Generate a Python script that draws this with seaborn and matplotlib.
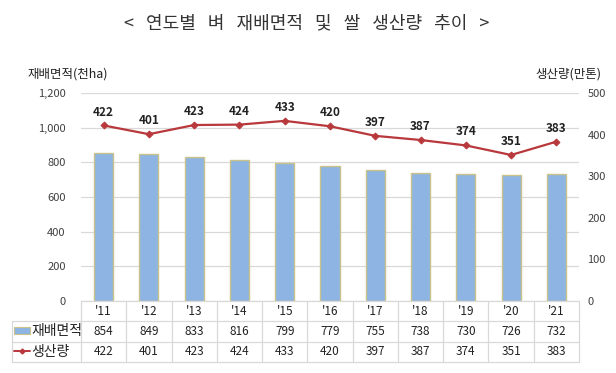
import numpy as np
import pandas as pd
import matplotlib
matplotlib.use('Agg')
import matplotlib.pyplot as plt
from matplotlib.lines import Line2D
from matplotlib.patches import Rectangle
import seaborn as sns

# data
years = ["'11", "'12", "'13", "'14", "'15", "'16", "'17", "'18", "'19", "'20", "'21"]
area = [854, 849, 833, 816, 799, 779, 755, 738, 730, 726, 732]          # 재배면적(천ha)
production = [422, 401, 423, 424, 433, 420, 397, 387, 374, 351, 383]    # 생산량(만톤)
area_label = '재배면적'
prod_label = '생산량'
title_words = ['<', '연도별', '벼', '재배면적', '및', '쌀', '생산량', '추이', '>']

sns.set_theme(style='white')
plt.rcParams['font.family'] = ['Noto Sans CJK KR', 'DejaVu Sans']

bar_color = '#8DB4E2'
bar_edge = '#C9C28A'
line_color = '#B8383C'
grid_color = '#D9D9D9'
text_color = '#404040'

df = pd.DataFrame({'year': years, 'area': area, 'production': production})

fig = plt.figure(figsize=(6.16, 3.73), dpi=100)
W, H = 616, 373
left, right, top, bottom = 81, 579, 93, 301
ax = fig.add_axes([left / W, 1 - bottom / H, (right - left) / W, (bottom - top) / H])

sns.barplot(data=df, x='year', y='area', ax=ax, color=bar_color, width=0.42,
            edgecolor=bar_edge, linewidth=1.0, saturation=1)
ax.set_xlim(-0.5, len(years) - 0.5)
ax.set_ylim(0, 1200)
ax.set_yticks(range(0, 1201, 200))
ax.set_yticklabels([f'{v:,}' for v in range(0, 1201, 200)], fontsize=8, color=text_color)
ax.yaxis.grid(True, color=grid_color, linewidth=0.9)
ax.set_axisbelow(True)
ax.set_xticks([])
ax.set_xlabel('')
ax.set_ylabel('')
ax.tick_params(axis='y', length=0, pad=11)
for s in ax.spines.values():
    s.set_visible(False)

ax2 = ax.twinx()
xpos = np.arange(len(years))
sns.lineplot(x=xpos, y=production, ax=ax2, color=line_color, linewidth=1.6,
             marker='D', markersize=3.5, markeredgecolor=line_color)
ax2.set_ylim(0, 500)
ax2.set_yticks(range(0, 501, 100))
ax2.set_yticklabels([str(v) for v in range(0, 501, 100)], fontsize=8, color=text_color)
ax2.tick_params(axis='y', length=0, pad=6)
ax2.grid(False)
for s in ax2.spines.values():
    s.set_visible(False)
for x, v in zip(xpos, production):
    ax2.annotate(str(v), (x, v), xytext=(0, 5), textcoords='offset points',
                 ha='center', va='bottom', fontsize=8.5, fontweight='bold', color='#222222')

# axis titles and title
fig.text(28 / W, 1 - 74 / H, '재배면적(천ha)', fontsize=9, color='#222222', va='center', ha='left')
fig.text(601 / W, 1 - 74 / H, '생산량(만톤)', fontsize=9, color='#222222', va='center', ha='right')
fig.text(307 / W, 1 - 23 / H, '   '.join(title_words), fontsize=13,
         color='#333333', va='center', ha='center', fontweight='light')

# data table under the chart
tab_top, tab_bot, tab_left = 301, 362, 12
tax = fig.add_axes([left / W, 1 - tab_bot / H, (right - left) / W, (tab_bot - tab_top) / H])
tax.set_xlim(-0.5, len(years) - 0.5)
tax.set_ylim(3, 0)
tax.axis('off')
px = (len(years)) / (right - left)
x_far = -0.5 - (left - tab_left) * px
for r in range(4):
    x0 = -0.5 if r == 0 else x_far
    tax.add_line(Line2D([x0, len(years) - 0.5], [r, r], color=grid_color, lw=0.9, clip_on=False))
for c in range(len(years) + 1):
    tax.add_line(Line2D([c - 0.5, c - 0.5], [0, 3], color=grid_color, lw=0.9, clip_on=False))
tax.add_line(Line2D([x_far, x_far], [1, 3], color=grid_color, lw=0.9, clip_on=False))

for i, (y, a, p) in enumerate(zip(years, area, production)):
    tax.text(i, 0.5, y, ha='center', va='center', fontsize=8.5, color='#222222')
    tax.text(i, 1.5, str(a), ha='center', va='center', fontsize=8.5, color='#222222')
    tax.text(i, 2.5, str(p), ha='center', va='center', fontsize=8.5, color='#222222')

# legend keys inside the table
kx0 = -0.5 - (left - 14) * px
kx1 = -0.5 - (left - 30) * px
tax.add_patch(Rectangle((kx0, 1.3), kx1 - kx0, 0.3, facecolor=bar_color, edgecolor=bar_edge,
                        lw=0.8, clip_on=False))
tax.add_line(Line2D([kx0, kx1], [2.45, 2.45], color=line_color, lw=1.4, clip_on=False))
tax.add_line(Line2D([(kx0 + kx1) / 2], [2.45], color=line_color, marker='D', markersize=2.5,
                    clip_on=False))
tx = -0.5 - (left - 31) * px
tax.text(tx, 1.5, area_label, ha='left', va='center', fontsize=10, color='#222222')
tax.text(tx, 2.5, prod_label, ha='left', va='center', fontsize=10, color='#222222')

fig.savefig('out.png', dpi=100)
